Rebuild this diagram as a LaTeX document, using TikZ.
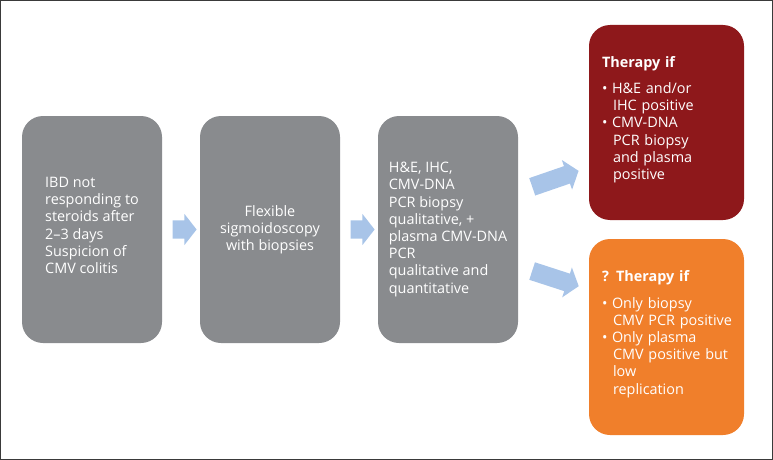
\documentclass[tikz,border=0pt]{standalone}
\usepackage{fontspec}
\setmainfont{Open Sans}
\usetikzlibrary{shapes.arrows,calc}
\definecolor{boxgray}{HTML}{898B8E}
\definecolor{boxred}{HTML}{8E181B}
\definecolor{boxorange}{HTML}{F07F2B}
\definecolor{arrowblue}{HTML}{A8C4E8}
\definecolor{framegray}{HTML}{3A3A3A}
\newcommand{\bul}{\makebox[10pt][l]{\textbullet}}
\newcommand{\ind}{\hspace*{11pt}}
\begin{document}
\begin{tikzpicture}[x=1pt,y=-1pt,
  box/.style={rounded corners=21pt, inner sep=0pt, text=white,
    font=\fontsize{14.4}{17.2}\selectfont},
  stepbox/.style={box, fill=boxgray, minimum width=140pt, minimum height=227pt},
  resultbox/.style={box, minimum width=155pt, text width=129pt, align=left},
  blockarrow/.style={single arrow, fill=arrowblue, inner xsep=0pt, inner ysep=9pt,
    single arrow head extend=6.5pt, single arrow tip angle=104}]
\useasboundingbox (0,0) rectangle (773,460);
\draw[framegray, line width=1pt] (0.5,0.5) rectangle (772.5,459.5);

\node[stepbox, align=left] (b1) at (92,229.5)
  {IBD not\\responding to\\steroids after\\2–3 days\\Suspicion of\\CMV colitis\\[-9pt]\mbox{}};
\node[stepbox, align=center] (b2) at (270,229.5)
  {Flexible\\sigmoidoscopy\\with biopsies};
\node[stepbox, align=left] (b3) at (448,229.5)
  {H\&E, IHC,\\CMV-DNA\\PCR biopsy\\qualitative, +\\plasma CMV-DNA\\PCR\\qualitative and\\quantitative};

\node[resultbox, fill=boxred, minimum height=195pt] (r1) at (666.5,122.5)
  {\textbf{Therapy if}\\[9pt]
   \bul H\&E and/or\\\ind IHC positive\\
   \bul CMV-DNA\\\ind PCR biopsy\\\ind and plasma\\\ind positive\\[-8pt]\mbox{}};
\node[resultbox, fill=boxorange, minimum height=196pt] (r2) at (666.5,337)
  {\textbf{? Therapy if}\\[9pt]
   \bul Only biopsy\\\ind \mbox{CMV PCR positive}\\
   \bul Only plasma\\\ind \mbox{CMV positive but}\\\ind low\\\ind replication\\[-8pt]\mbox{}};

\node[blockarrow, minimum height=24pt] (a1) at ($(b1.east)!0.5!(b2.west)$) {};
\node[blockarrow, minimum height=24pt] (a2) at ($(b2.east)!0.5!(b3.west)$) {};
\node[blockarrow, minimum height=49pt, rotate=19] (a3) at (552,180) {};
\node[blockarrow, minimum height=49pt, rotate=-18] (a4) at (552,277.5) {};
\end{tikzpicture}
\end{document}
